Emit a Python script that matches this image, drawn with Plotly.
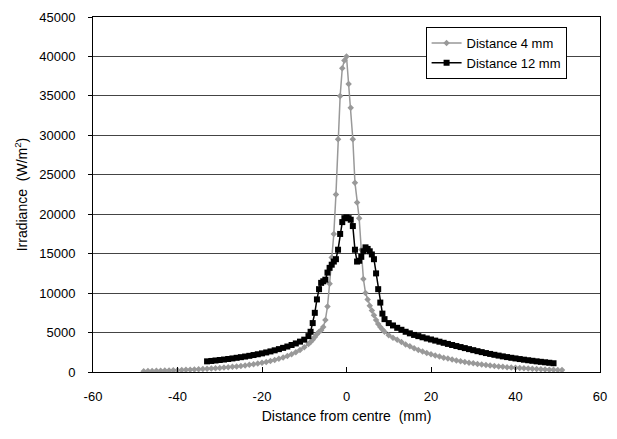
import plotly.graph_objects as go

# Irradiance profiles across the beam at two distances
x_4mm = [-48, -47, -46, -45, -44, -43, -42, -41, -40, -39, -38, -37, -36, -35, -34, -33,
         -32, -31, -30, -29, -28, -27, -26, -25, -24, -23, -22, -21, -20, -19, -18, -17,
         -16, -15, -14, -13, -12, -11, -10, -9,
         -8.5, -8, -7.5, -7, -6.5, -6, -5.5, -5, -4.5, -4, -3.5, -3, -2.5, -2, -1.5, -1, -0.5,
         0, 0.5, 1, 1.5, 2, 2.5, 3, 3.5, 4, 4.5, 5, 5.5, 6, 6.5, 7, 7.5, 8, 8.5,
         9, 10, 11, 12, 13, 14, 15, 16, 17, 18, 19, 20, 21, 22, 23, 24, 25, 26, 27, 28, 29,
         30, 31, 32, 33, 34, 35, 36, 37, 38, 39, 40, 41, 42, 43, 44, 45, 46, 47, 48, 49, 50, 51]
irr_4mm = [100, 115, 130, 145, 160, 175, 190, 210, 230, 250, 270, 295, 320, 345, 375, 405,
           440, 475, 515, 560, 605, 655, 710, 770, 835, 905, 985, 1070, 1165, 1270, 1390, 1520,
           1670, 1840, 2030, 2250, 2500, 2800, 3150, 3550,
           3800, 4100, 4450, 4800, 5100, 5300, 5700, 6600, 8300, 11200, 14500, 17500, 22500, 29500, 35000, 38500, 39500,
           40000, 36500, 33500, 29500, 24000, 21500, 19500, 15500, 11800, 10000, 9200, 8400, 7800, 7200, 6600, 6100, 5700, 5400,
           5100, 4650, 4350, 4100, 3800, 3500, 3250, 3000, 2800, 2600, 2420, 2260, 2100, 1960, 1820, 1700, 1580, 1470, 1370, 1270, 1180,
           1100, 1020, 950, 880, 820, 760, 705, 655, 610, 570, 530, 495, 460, 430, 400, 375, 350, 325, 300, 280, 260, 240]

x_12mm = [-33, -32, -31, -30, -29, -28, -27, -26, -25, -24, -23, -22, -21, -20, -19, -18,
          -17, -16, -15, -14, -13, -12, -11, -10, -9,
          -8.5, -8, -7.5, -7, -6.5, -6, -5.5, -5, -4.5, -4, -3.5, -3, -2.5, -2, -1.5, -1, -0.5,
          0, 0.5, 1, 1.5, 2, 2.5, 3, 3.5, 4, 4.5, 5, 5.5, 6, 6.5, 7, 7.5, 8, 8.5, 9,
          10, 11, 12, 13, 14, 15, 16, 17, 18, 19, 20, 21, 22, 23, 24, 25, 26, 27, 28, 29,
          30, 31, 32, 33, 34, 35, 36, 37, 38, 39, 40, 41, 42, 43, 44, 45, 46, 47, 48, 49]
irr_12mm = [1350, 1400, 1460, 1520, 1580, 1650, 1720, 1800, 1880, 1960, 2050, 2150, 2250, 2360, 2480, 2610,
            2750, 2900, 3060, 3230, 3420, 3620, 3850, 4100, 4550,
            5100, 6200, 7500, 9200, 10500, 11300, 11500, 11700, 12600, 13200, 13600, 14000, 14300, 15500, 17500, 19000, 19500,
            19600, 19500, 19300, 18500, 15500, 14000, 14100, 14600, 15300, 15800, 15600, 15300, 14900, 14300, 12500, 10500, 8800, 7400, 6700,
            6200, 5900, 5600, 5350, 5100, 4900, 4700, 4550, 4400, 4250, 4120, 3980, 3840, 3700, 3560, 3420, 3290, 3160, 3030, 2900,
            2770, 2640, 2520, 2400, 2290, 2180, 2080, 1980, 1890, 1800, 1720, 1640, 1560, 1490, 1420, 1350, 1290, 1230, 1170, 1110]

x_ticks = [-60, -40, -20, 0, 20, 40, 60]
y_ticks = [0, 5000, 10000, 15000, 20000, 25000, 30000, 35000, 40000, 45000]

FONT = "Liberation Sans, Arial, sans-serif"

fig = go.Figure()
fig.add_trace(go.Scatter(
    x=x_4mm, y=irr_4mm, name="Distance 4 mm", mode="lines+markers",
    line=dict(color="#999999", width=1.5),
    marker=dict(symbol="diamond", size=5, color="#999999"),
))
fig.add_trace(go.Scatter(
    x=x_12mm, y=irr_12mm, name="Distance 12 mm", mode="lines+markers",
    line=dict(color="#000000", width=1.5),
    marker=dict(symbol="square", size=6, color="#000000"),
))

fig.update_layout(
    width=617, height=439,
    margin=dict(l=93, r=10, t=12, b=67),
    paper_bgcolor="white", plot_bgcolor="white",
    font=dict(family=FONT, size=13, color="black"),
    showlegend=True,
    legend=dict(
        x=0.656, y=0.972, xanchor="left", yanchor="top",
        bgcolor="white", bordercolor="black", borderwidth=1,
        font=dict(family=FONT, size=13, color="black"),
        itemwidth=30, tracegroupgap=2,
    ),
)

fig.update_xaxes(
    range=[-60, 60], tickvals=x_ticks, ticktext=[str(v) for v in x_ticks],
    showgrid=False, zeroline=False,
    showline=True, linecolor="black", linewidth=1, mirror=True,
    ticks="inside", ticklen=5, tickcolor="black",
    ticklabelstandoff=12,
    title=dict(text="Distance from centre  (mm)", font=dict(family=FONT, size=14), standoff=8),
)
fig.update_yaxes(
    range=[0, 45000], tickvals=y_ticks, ticktext=[str(v) for v in y_ticks],
    showgrid=True, gridcolor="#444444", gridwidth=1, zeroline=False,
    showline=True, linecolor="black", linewidth=1, mirror=True,
    ticks="outside", ticklen=4, tickcolor="black",
    ticklabelstandoff=10,
    title=dict(text="Irradiance  (W/m<sup>2</sup>)", font=dict(family=FONT, size=14), standoff=8),
)

fig.write_html("out.html")
